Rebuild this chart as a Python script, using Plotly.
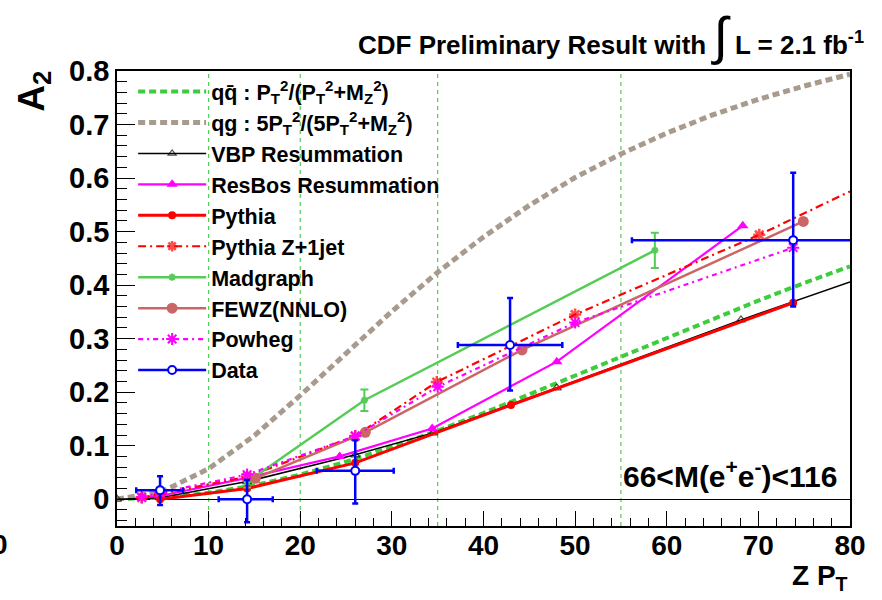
import plotly.graph_objects as go

# ---------------- data ----------------
# theory curves
qq_x = [0, 5, 10, 15, 20, 25, 30, 35, 40, 45, 50, 55, 60, 65, 70, 75, 80]
qq_y = [0.0, 0.003, 0.012, 0.026, 0.046, 0.070, 0.098, 0.128, 0.161, 0.196, 0.231, 0.267, 0.302, 0.337, 0.371, 0.404, 0.435]
qg_x = [0, 5, 10, 15, 20, 25, 30, 35, 40, 45, 50, 55, 60, 65, 70, 75, 80]
qg_y = [0.0, 0.015, 0.057, 0.119, 0.194, 0.273, 0.351, 0.424, 0.490, 0.549, 0.601, 0.645, 0.684, 0.718, 0.747, 0.772, 0.794]

vbp_x = [0, 4.7, 14.2, 26, 34.5, 48, 68.1, 80]
vbp_y = [0.0, 0.003, 0.033, 0.083, 0.124, 0.208, 0.335, 0.406]

resbos_x = [2.7, 4.7, 14.2, 24.3, 34.4, 48, 68.3]
resbos_y = [0.004, 0.006, 0.040, 0.080, 0.132, 0.257, 0.511]

pythia_x = [4.7, 14.2, 26, 43, 73.8]
pythia_y = [0.0, 0.020, 0.068, 0.176, 0.367]

pz1_x = [2.7, 4.7, 14.2, 26, 34.9, 50, 70.1, 80]
pz1_y = [0.003, 0.010, 0.042, 0.118, 0.219, 0.345, 0.494, 0.575]

madg_x = [14.2, 27, 58.7]
madg_y = [0.032, 0.185, 0.465]
madg_err = [0.010, 0.020, 0.033]

fewz_x = [15.1, 27.1, 44.2, 74.9]
fewz_y = [0.039, 0.125, 0.279, 0.519]

powheg_x = [2.7, 4.7, 14.2, 26, 35, 50, 73.8]
powheg_y = [0.004, 0.012, 0.046, 0.118, 0.210, 0.330, 0.470]

data_x = [4.7, 14.2, 26.0, 42.9, 73.8]
data_y = [0.017, 0.0, 0.053, 0.288, 0.484]
data_xerr_lo = [2.6, 3.1, 4.2, 5.7, 17.6]
data_xerr_hi = [2.5, 2.8, 4.2, 5.7, 7.0]
data_yerr_hi = [0.026, 0.036, 0.057, 0.088, 0.126]
data_yerr_lo = [0.028, 0.043, 0.061, 0.085, 0.124]

vlines_x = [10, 20, 35, 55]

x_ticks = [0, 10, 20, 30, 40, 50, 60, 70, 80]
y_ticks = [0, 0.1, 0.2, 0.3, 0.4, 0.5, 0.6, 0.7, 0.8]
y_tick_text = ["0", "0.1", "0.2", "0.3", "0.4", "0.5", "0.6", "0.7", "0.8"]

# ---------------- figure ----------------
FONT = "Liberation Sans, Arial, sans-serif"
fig = go.Figure()

fig.add_trace(go.Scatter(
    x=qq_x, y=qq_y, mode="lines",
    name="qq\u0304 : P<sub>T</sub><sup>2</sup>/(P<sub>T</sub><sup>2</sup>+M<sub>Z</sub><sup>2</sup>)",
    line=dict(color="#3dcc3d", width=4, dash="7px,4px")))
fig.add_trace(go.Scatter(
    x=qg_x, y=qg_y, mode="lines",
    name="qg : 5P<sub>T</sub><sup>2</sup>/(5P<sub>T</sub><sup>2</sup>+M<sub>Z</sub><sup>2</sup>)",
    line=dict(color="#a89a8c", width=5, dash="7px,4px")))
fig.add_trace(go.Scatter(
    x=vbp_x, y=vbp_y, mode="lines+markers", name="VBP Resummation",
    line=dict(color="black", width=1.5),
    marker=dict(symbol="triangle-up-open", size=[8] * (len(vbp_x) - 1) + [0],
                color="black", line=dict(width=1.2))))
fig.add_trace(go.Scatter(
    x=resbos_x, y=resbos_y, mode="lines+markers", name="ResBos Resummation",
    line=dict(color="#ff00ff", width=2.2),
    marker=dict(symbol="triangle-up", size=10, color="#ff00ff")))
fig.add_trace(go.Scatter(
    x=pythia_x, y=pythia_y, mode="lines+markers", name="Pythia",
    line=dict(color="#ff0000", width=3),
    marker=dict(symbol="circle", size=8, color="#ff0000")))
fig.add_trace(go.Scatter(
    x=pz1_x, y=pz1_y, mode="lines+markers", name="Pythia Z+1jet",
    line=dict(color="#ff0000", width=2.2, dash="8px,4px,2px,4px"),
    marker=dict(symbol="asterisk-open", size=[10] * (len(pz1_x) - 1) + [0],
                color="#ff0000", line=dict(width=2.5, color="#ff0000"))))
fig.add_trace(go.Scatter(
    x=madg_x, y=madg_y, mode="lines+markers", name="Madgraph",
    line=dict(color="#55cc55", width=2.5),
    marker=dict(symbol="asterisk-open", size=6, color="#55cc55", line=dict(width=2, color="#55cc55")),
    error_y=dict(type="data", array=madg_err, color="#55cc55", thickness=2, width=4)))
fig.add_trace(go.Scatter(
    x=fewz_x, y=fewz_y, mode="lines+markers", name="FEWZ(NNLO)",
    line=dict(color="#cc6666", width=2.5),
    marker=dict(symbol="circle", size=11, color="#cc6666")))
fig.add_trace(go.Scatter(
    x=powheg_x, y=powheg_y, mode="lines+markers", name="Powheg",
    line=dict(color="#ff00ff", width=2.2, dash="5px,4px,2px,4px"),
    marker=dict(symbol="asterisk-open", size=10, color="#ff00ff", line=dict(width=2, color="#ff00ff"))))
# data points
fig.add_trace(go.Scatter(
    x=data_x, y=data_y, mode="markers", name="Data", showlegend=False,
    marker=dict(symbol="circle", size=8, color="white", line=dict(color="#0000ff", width=2)),
    error_x=dict(type="data", symmetric=False, array=data_xerr_hi, arrayminus=data_xerr_lo,
                 color="#0000ff", thickness=2.5, width=3),
    error_y=dict(type="data", symmetric=False, array=data_yerr_hi, arrayminus=data_yerr_lo,
                 color="#0000ff", thickness=2.5, width=3)))
# legend entry for data (line + marker as in original)
fig.add_trace(go.Scatter(
    x=[None], y=[None], mode="lines+markers", name="Data",
    line=dict(color="#0000ff", width=2.5),
    marker=dict(symbol="circle", size=8, color="white", line=dict(color="#0000ff", width=2))))

# vertical dashed bin lines
for xv in vlines_x:
    fig.add_shape(type="line", xref="x", yref="paper", x0=xv, x1=xv, y0=0, y1=1,
                  line=dict(color="#55cc55", width=1.2, dash="4px,4px"), layer="below")

fig.update_layout(
    width=882, height=600,
    margin=dict(l=117, r=32, t=71, b=74),
    paper_bgcolor="white", plot_bgcolor="white",
    font=dict(family=FONT, color="black"),
    showlegend=True,
    legend=dict(x=0.022, y=1.0, xanchor="left", yanchor="top",
                bgcolor="rgba(0,0,0,0)", borderwidth=0,
                font=dict(family=FONT, size=21.5, color="black", weight="bold"),
                itemwidth=68, tracegroupgap=0),
    xaxis=dict(range=[0, 80], tickvals=x_ticks, ticks="inside", ticklen=15, tickwidth=1.2,
               tickcolor="black", showgrid=False, zeroline=False,
               showline=True, linecolor="black", linewidth=1.5, mirror=True,
               tickfont=dict(family=FONT, size=28, weight="bold"),
               ticklabelstandoff=-6,
               minor=dict(dtick=2, ticks="inside", ticklen=8, tickcolor="black", tickwidth=1.2, showgrid=False)),
    yaxis=dict(range=[-0.05, 0.8], tickvals=y_ticks, ticktext=y_tick_text, ticks="inside",
               ticklen=18, tickwidth=1.2, tickcolor="black", showgrid=False,
               zeroline=True, zerolinecolor="black", zerolinewidth=1.2,
               showline=True, linecolor="black", linewidth=1.5, mirror=True,
               tickfont=dict(family=FONT, size=29, weight="bold"),
               minor=dict(dtick=0.02, ticks="inside", ticklen=10, tickcolor="black", tickwidth=1.2, showgrid=False)),
)

annots = [
    dict(text="CDF Preliminary Result with <span style='font-size:52px;font-weight:normal'>\u222B</span> L = 2.1 fb<sup>-1</sup>",
         x=1.022, y=1.075, xanchor="right", yanchor="middle",
         font=dict(size=26, weight="bold")),
    dict(text="A<sub>2</sub>", textangle=-90, x=-0.113, y=0.955, xanchor="center", yanchor="middle",
         font=dict(size=37, weight="bold")),
    dict(text="Z P<sub>T</sub>", x=1.0, y=-0.113, xanchor="right", yanchor="middle",
         font=dict(size=28, weight="bold")),
    dict(text="66&lt;M(e<sup>+</sup>e<sup>-</sup>)&lt;116", x=0.985, y=0.115, xanchor="right",
         yanchor="middle", font=dict(size=30, weight="bold")),
    dict(text="0", x=-0.146, y=-0.04, xanchor="right", yanchor="middle",
         font=dict(size=28, weight="bold")),
]
for a in annots:
    fig.add_annotation(xref="paper", yref="paper", showarrow=False,
                       font_family=FONT, font_color="black", **{k: v for k, v in a.items() if k != "font"},
                       font_size=a["font"]["size"], font_weight=a["font"]["weight"])

fig.write_html("out.html")
